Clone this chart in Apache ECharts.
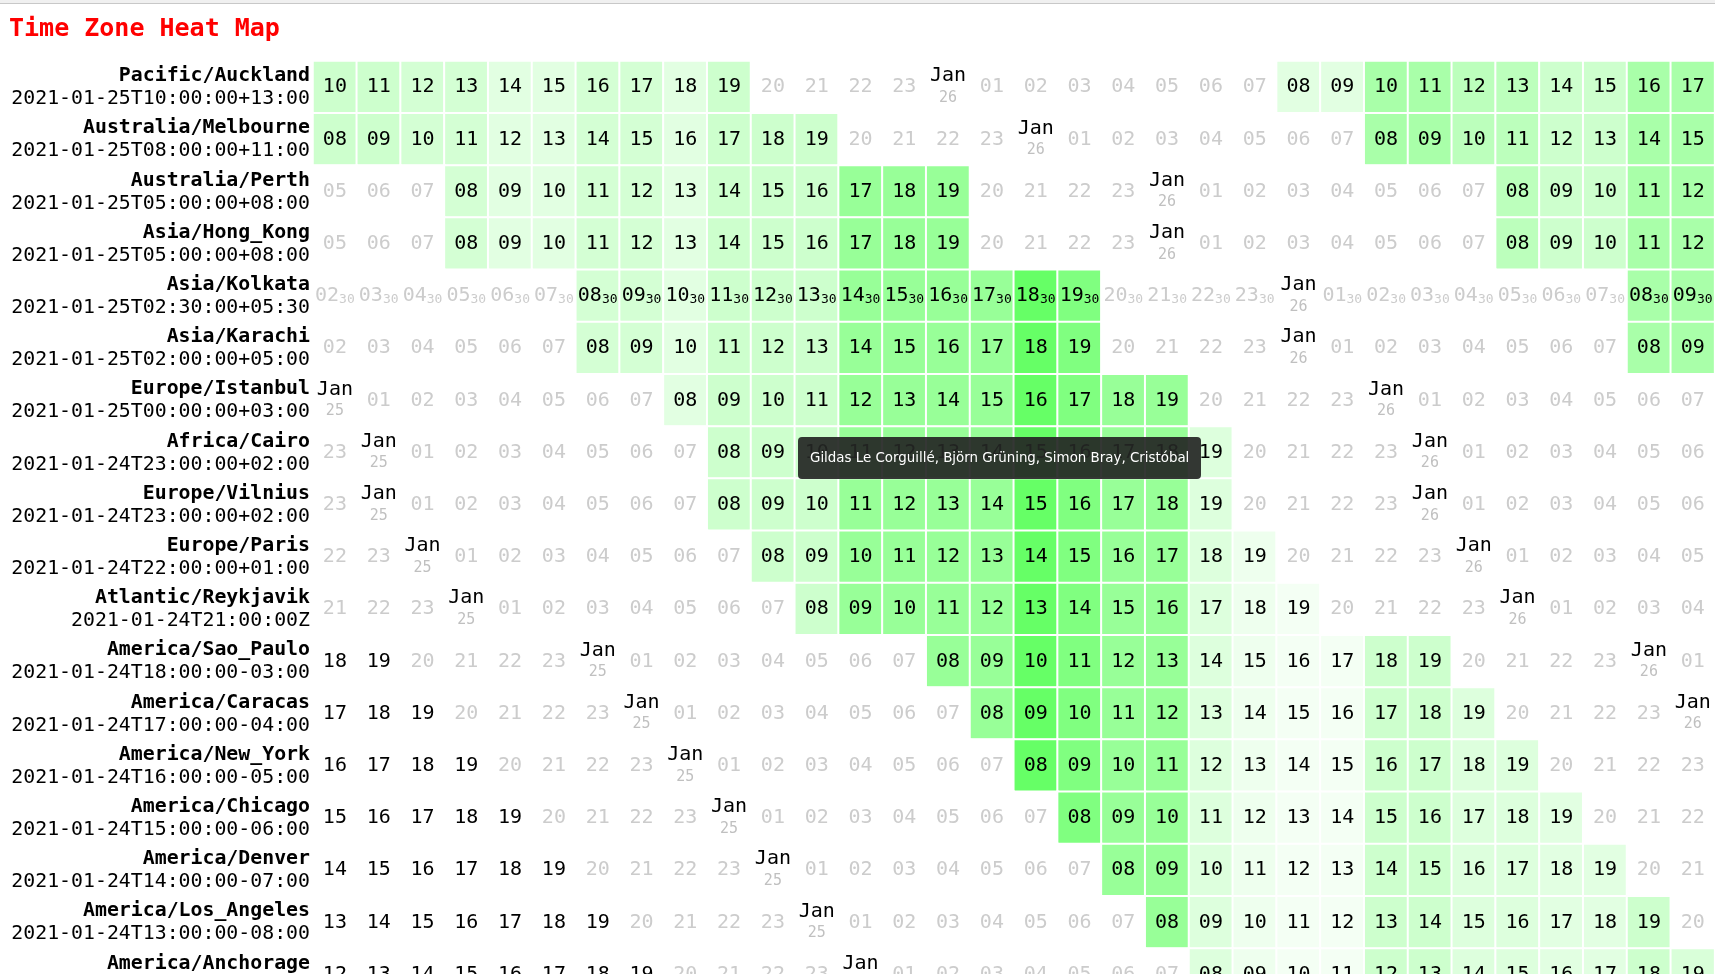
<!DOCTYPE html>
<html><head><meta charset="utf-8">
<script src="https://cdn.jsdelivr.net/npm/echarts@6/dist/echarts.min.js"></script>
<style>
html,body{margin:0;padding:0;overflow:hidden;background:#fff;}
#chart{position:absolute;left:0;top:0;width:1715px;height:1010px;}
#bar{position:absolute;left:0;top:0;width:1715px;height:3px;background:#f0f0f0;border-bottom:1px solid #c8c8c8;}
</style></head><body>
<div id="chart"></div><div id="bar"></div>
<script>
// ---- data ----
const zones = ['Pacific/Auckland','Australia/Melbourne','Australia/Perth','Asia/Hong_Kong','Asia/Kolkata','Asia/Karachi','Europe/Istanbul','Africa/Cairo','Europe/Vilnius','Europe/Paris','Atlantic/Reykjavik','America/Sao_Paulo','America/Caracas','America/New_York','America/Chicago','America/Denver','America/Los_Angeles','America/Anchorage'];
const startStamps = ['2021-01-25T10:00:00+13:00','2021-01-25T08:00:00+11:00','2021-01-25T05:00:00+08:00','2021-01-25T05:00:00+08:00','2021-01-25T02:30:00+05:30','2021-01-25T02:00:00+05:00','2021-01-25T00:00:00+03:00','2021-01-24T23:00:00+02:00','2021-01-24T23:00:00+02:00','2021-01-24T22:00:00+01:00','2021-01-24T21:00:00Z','2021-01-24T18:00:00-03:00','2021-01-24T17:00:00-04:00','2021-01-24T16:00:00-05:00','2021-01-24T15:00:00-06:00','2021-01-24T14:00:00-07:00','2021-01-24T13:00:00-08:00','2021-01-24T12:00:00-09:00'];
const utcOffsetMinutes = [780,660,480,480,330,300,180,120,120,60,0,-180,-240,-300,-360,-420,-480,-540];
const firstColumnUTC = '2021-01-24T21:00:00Z';
const hourColumns = ['21','22','23','00','01','02','03','04','05','06','07','08','09','10','11','12','13','14','15','16','17','18','19','20','21','22','23','00','01','02','03','04'];
// availability level per UTC column, for local Jan 25 and local Jan 26 working hours
const levelJan25 = [3.3,3.3,2.8,2.8,1.9,1.9,2.8,2.8,1.9,3.3,3.3,3.3,6.7,6.7,6.7,6.7,10,8.3,6.7,6.7,2.2,1.1,0.7,0.7,3.3,3.3,2.2,2.2,1.9,1.9,3.3,2.5];
const levelJan26 = [0,0,0,0,0,0,0,0,0,0,0,0,0,0,0,0,0,0,0,0,0,0,1.9,1.9,5.6,5.6,4.4,4.4,3.3,3.3,5.6,5.6];
const tooltipNames = 'Gildas Le Corguillé, Björn Grüning, Simon Bray, Cristóbal';
const tooltipCell = [15, 7];

// ---- build ----
const MONO = '"DejaVu Sans Mono", monospace';
const pad = n => (n < 10 ? '0' : '') + n;
const t0 = Date.parse(firstColumnUTC);
const data = [];
zones.forEach((z, r) => {
  hourColumns.forEach((hc, c) => {
    const t = new Date(t0 + (c * 60 + utcOffsetMinutes[r]) * 60000);
    const h = t.getUTCHours(), mi = t.getUTCMinutes(), d = t.getUTCDate();
    const work = h >= 8 && h <= 19;
    let text;
    if (h === 0) text = '{j|Jan}\n{d|' + d + '}';
    else {
      const k = work ? 'h' : 'g';
      text = '{' + k + '|' + pad(h) + '}' + (mi ? '{' + k + 'm|' + pad(mi) + '}' : '');
    }
    let v = 0;
    if (work && d === 25) v = levelJan25[c];
    if (work && d === 26) v = levelJan26[c];
    data.push({ value: [c, r, v], txt: text });
  });
});

const chart = echarts.init(document.getElementById('chart'));
chart.setOption({
  animation: false,
  title: {
    text: 'Time Zone Heat Map', left: 4, top: 12,
    textStyle: { fontFamily: MONO, fontWeight: 'bold', fontSize: 25, color: '#ff0000' }
  },
  tooltip: {
    trigger: 'item', triggerOn: 'none', alwaysShowContent: true,
    position: [798, 437],
    backgroundColor: 'rgba(36,38,36,0.92)', borderWidth: 0, padding: [11, 12],
    textStyle: { color: '#fff', fontSize: 13.4, fontFamily: '"DejaVu Sans", sans-serif' },
    extraCssText: 'box-shadow:none;border-radius:4px;',
    transitionDuration: 0,
    formatter: () => tooltipNames
  },
  grid: { left: 313, top: 61, width: 32 * 43.8, height: 18 * 52.2 },
  xAxis: { type: 'category', data: hourColumns, show: false },
  yAxis: {
    type: 'category', data: zones, inverse: true,
    axisLine: { show: false }, axisTick: { show: false }, splitLine: { show: false },
    axisLabel: {
      margin: 3, align: 'right',
      formatter: (v, i) => '{n|' + v + '}\n{t|' + startStamps[i] + '}',
      rich: {
        n: { fontFamily: MONO, fontWeight: 'bold', fontSize: 19.85, lineHeight: 24, color: '#000', align: 'right', padding: [2, 0, 0, 0] },
        t: { fontFamily: MONO, fontSize: 19.85, lineHeight: 24, color: '#000', align: 'right' }
      }
    }
  },
  visualMap: { type: 'continuous', min: 0, max: 10, dimension: 2, show: false, inRange: { color: ['#ffffff', '#66ff66'] } },
  series: [{
    type: 'heatmap',
    data: data,
    itemStyle: { borderColor: '#ffffff', borderWidth: 2 },
    emphasis: { disabled: true },
    label: {
      show: true,
      formatter: p => p.data.txt,
      rich: {
        h: { fontFamily: MONO, fontSize: 20, lineHeight: 24, color: '#000' },
        g: { fontFamily: MONO, fontSize: 20, lineHeight: 24, color: '#cccccc' },
        hm: { fontFamily: MONO, fontSize: 13, lineHeight: 18, color: '#000', verticalAlign: 'bottom', padding: [0, 0, 2, 0] },
        gm: { fontFamily: MONO, fontSize: 13, lineHeight: 18, color: '#cccccc', verticalAlign: 'bottom', padding: [0, 0, 2, 0] },
        j: { fontFamily: MONO, fontSize: 20, lineHeight: 22, color: '#000' },
        d: { fontFamily: MONO, fontSize: 15, lineHeight: 22, color: '#c0c0c0' }
      }
    }
  }]
});
chart.dispatchAction({ type: 'showTip', seriesIndex: 0, dataIndex: tooltipCell[1] * hourColumns.length + tooltipCell[0] });
</script>
</body></html>
